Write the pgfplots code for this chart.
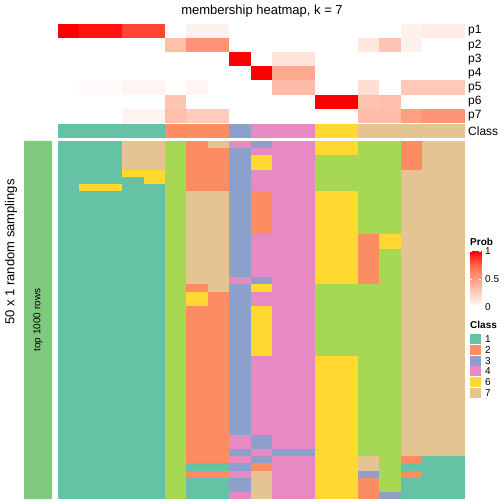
\documentclass[border=0pt]{standalone}
\usepackage{pgfplots}
\pgfplotsset{compat=1.18}
\usepackage{pgfplotstable}
\usepackage{fontspec}
\setmainfont{Liberation Sans}

\definecolor{annogreen}{RGB}{127,201,127}

\pgfplotsset{
  colormap={probmap}{rgb255=(255,255,255) rgb255=(255,207,191) rgb255=(255,158,129) rgb255=(255,103,70) rgb255=(255,0,0)},
  colormap={set2}{rgb255=(102,194,165) rgb255=(252,141,98) rgb255=(141,160,203) rgb255=(231,138,195) rgb255=(166,216,84) rgb255=(255,217,47) rgb255=(229,196,148)},
  hm/.style={scale only axis, anchor=south west, axis line style={draw=none}, xtick=\empty, ytick=\empty,
    major tick length=0pt, clip=false, /pgf/number format/assume math mode=true},
  cellplot/.style={scatter, only marks, scatter/use mapped color={draw=none, fill=mapped color}},
}

\pgfdeclareplotmark{cellP}{\pgfpathrectangle{\pgfpoint{-10.86pt}{-7.22pt}}{\pgfpoint{21.72pt}{14.44pt}}\pgfusepathqfill}
\pgfdeclareplotmark{cellK}{\pgfpathrectangle{\pgfpoint{-10.86pt}{-7.0pt}}{\pgfpoint{21.72pt}{14.0pt}}\pgfusepathqfill}
\pgfdeclareplotmark{cellB}{\pgfpathrectangle{\pgfpoint{-10.86pt}{-3.73pt}}{\pgfpoint{21.72pt}{7.46pt}}\pgfusepathqfill}
\pgfdeclareplotmark{cellL}{\pgfpathrectangle{\pgfpoint{-5.5pt}{-5.1pt}}{\pgfpoint{11pt}{10.2pt}}\pgfusepathqfill}

% membership probabilities: y=7 is p1, y=1 is p7
\pgfplotstableread{
y c1 c2 c3 c4 c5 c6 c7 c8 c9 c10 c11 c12 c13 c14 c15 c16 c17 c18 c19
7 1.00 0.95 0.95 0.83 0.83 0 0.07 0.07 0 0 0 0 0 0 0 0 0.07 0.10 0.10
6 0 0 0 0 0 0.33 0.55 0.55 0 0 0 0 0 0 0.12 0.30 0.07 0 0
5 0 0 0 0 0 0 0 0 1.00 0 0.14 0.14 0 0 0 0 0 0 0
4 0 0 0 0 0 0 0 0 0 1.00 0.45 0.45 0 0 0 0 0 0 0
3 0 0.02 0.02 0.05 0.05 0 0.05 0 0 0 0.35 0.35 0 0 0.17 0 0.28 0.28 0.28
2 0 0 0 0 0 0.30 0 0 0 0 0 0 1.00 1.00 0.30 0.33 0 0 0
1 0 0 0 0.06 0.06 0.33 0.27 0.27 0 0 0 0 0 0 0.34 0.34 0.50 0.55 0.55
}\probdata

\pgfplotstableread{
x c
1 1
2 1
3 1
4 1
5 1
6 2
7 2
8 2
9 3
10 4
11 4
12 4
13 6
14 6
15 7
16 7
17 7
18 7
19 7
}\classdata

% 50 random samplings: y=50 is the top row
\pgfplotstableread{
y c1 c2 c3 c4 c5 c6 c7 c8 c9 c10 c11 c12 c13 c14 c15 c16 c17 c18 c19
1  1 1 1 1 1 5 1 1 4 7 4 4 6 6 2 3 1 1 1
2  1 1 1 1 1 5 1 1 3 7 4 4 6 6 2 5 1 1 1
3  1 1 1 1 1 5 1 1 3 7 4 4 6 6 2 5 1 1 1
4  1 1 1 1 1 5 2 2 4 7 4 4 6 6 3 5 2 1 1
5  1 1 1 1 1 5 1 1 3 2 4 4 6 6 7 5 1 1 1
6  1 1 1 1 1 5 2 2 4 3 4 4 6 6 7 5 2 1 1
7  1 1 1 1 1 5 2 2 3 4 3 3 6 6 5 5 7 7 7
8  1 1 1 1 1 5 2 2 4 3 4 4 6 6 5 5 7 7 7
9  1 1 1 1 1 5 2 2 4 3 4 4 6 6 5 5 7 7 7
10 1 1 1 1 1 5 2 2 3 4 4 4 6 6 5 5 7 7 7
11 1 1 1 1 1 5 2 2 3 4 4 4 6 6 5 5 7 7 7
12 1 1 1 1 1 5 2 2 3 4 4 4 6 6 5 5 7 7 7
13 1 1 1 1 1 5 2 2 3 4 4 4 6 6 5 5 7 7 7
14 1 1 1 1 1 5 2 2 3 4 4 4 6 6 5 5 7 7 7
15 1 1 1 1 1 5 2 2 3 4 4 4 6 6 5 5 7 7 7
16 1 1 1 1 1 5 2 2 3 4 4 4 6 6 5 5 7 7 7
17 1 1 1 1 1 5 2 2 3 4 4 4 6 6 5 5 7 7 7
18 1 1 1 1 1 5 2 2 3 4 4 4 6 6 5 5 7 7 7
19 1 1 1 1 1 5 2 2 3 4 4 4 6 6 5 5 7 7 7
20 1 1 1 1 1 5 2 2 3 4 4 4 6 6 5 5 7 7 7
21 1 1 1 1 1 5 2 2 3 6 4 4 5 5 5 5 7 7 7
22 1 1 1 1 1 5 2 2 3 6 4 4 5 5 5 5 7 7 7
23 1 1 1 1 1 5 2 2 3 6 4 4 5 5 5 5 7 7 7
24 1 1 1 1 1 5 2 2 3 6 4 4 5 5 5 5 7 7 7
25 1 1 1 1 1 5 2 2 3 6 4 4 5 5 5 5 7 7 7
26 1 1 1 1 1 5 2 2 3 6 4 4 5 5 5 5 7 7 7
27 1 1 1 1 1 5 2 2 3 6 4 4 5 5 5 5 7 7 7
28 1 1 1 1 1 5 6 2 3 4 4 4 5 5 5 5 7 7 7
29 1 1 1 1 1 5 6 2 3 4 4 4 5 5 5 5 7 7 7
30 1 1 1 1 1 5 2 7 3 6 4 4 5 5 5 5 7 7 7
31 1 1 1 1 1 5 7 7 4 3 4 4 6 6 2 5 7 7 7
32 1 1 1 1 1 5 7 7 3 4 4 4 6 6 2 5 7 7 7
33 1 1 1 1 1 5 7 7 3 4 4 4 6 6 2 5 7 7 7
34 1 1 1 1 1 5 7 7 3 4 4 4 6 6 2 5 7 7 7
35 1 1 1 1 1 5 7 7 3 4 4 4 6 6 2 5 7 7 7
36 1 1 1 1 1 5 7 7 3 4 4 4 6 6 2 6 7 7 7
37 1 1 1 1 1 5 7 7 3 4 4 4 6 6 2 6 7 7 7
38 1 1 1 1 1 5 7 7 3 2 4 4 6 6 5 5 7 7 7
39 1 1 1 1 1 5 7 7 3 2 4 4 6 6 5 5 7 7 7
40 1 1 1 1 1 5 7 7 3 2 4 4 6 6 5 5 7 7 7
41 1 1 1 1 1 5 7 7 3 2 4 4 6 6 5 5 7 7 7
42 1 1 1 1 1 5 7 7 3 2 4 4 6 6 5 5 7 7 7
43 1 1 1 1 1 5 7 7 3 2 4 4 6 6 5 5 7 7 7
44 1 6 6 1 1 5 2 2 3 4 4 4 5 5 5 5 7 7 7
45 1 1 1 1 6 5 2 2 3 4 4 4 5 5 5 5 7 7 7
46 1 1 1 6 6 5 2 2 3 4 4 4 5 5 5 5 7 7 7
47 1 1 1 7 7 5 2 2 3 6 4 4 5 5 5 5 2 7 7
48 1 1 1 7 7 5 2 2 3 6 4 4 5 5 5 5 2 7 7
49 1 1 1 7 7 5 2 2 3 4 4 4 6 6 5 5 2 7 7
50 1 1 1 7 7 5 2 7 4 3 4 4 6 6 5 5 2 7 7
}\sampdata

\pgfplotstableread{
y c
6 1
5 2
4 3
3 4
2 6
1 7
}\legdata

\begin{document}
\begin{tikzpicture}[x=1pt,y=1pt]
\useasboundingbox (0,0) rectangle (504,504);

% title
\node[font=\fontsize{13}{15}\selectfont, anchor=base] at (262,489) {membership heatmap, k = 7};

% membership probability matrix
\begin{axis}[hm, at={(58pt,381pt)}, width=407pt, height=99pt,
  xmin=0.5, xmax=19.5, ymin=0.5, ymax=7.5,
  colormap name=probmap, point meta min=0, point meta max=1,
  ytick={1,...,7}, yticklabels={p7,p6,p5,p4,p3,p2,p1}, yticklabel pos=right,
  yticklabel style={anchor=west, inner sep=0pt, xshift=3pt, font=\fontsize{12}{14}\selectfont}]
\pgfplotsinvokeforeach{1,...,19}{
  \addplot[cellplot, mark=cellP, point meta=\thisrow{c#1}] table[x expr=#1, y=y] {\probdata};
}
\end{axis}

% class row
\begin{axis}[hm, at={(58pt,366pt)}, width=407pt, height=14pt,
  xmin=0.5, xmax=19.5, ymin=0.5, ymax=1.5,
  colormap name=set2, point meta min=1, point meta max=7,
  ytick={1}, yticklabels={Class}, yticklabel pos=right,
  yticklabel style={anchor=west, inner sep=0pt, xshift=3pt, font=\fontsize{12}{14}\selectfont}]
\addplot[cellplot, mark=cellK, point meta=\thisrow{c}] table[x=x, y expr=1] {\classdata};
\end{axis}

% 50 random samplings
\begin{axis}[hm, at={(58pt,5pt)}, width=407pt, height=358pt,
  xmin=0.5, xmax=19.5, ymin=0.5, ymax=50.5,
  colormap name=set2, point meta min=1, point meta max=7]
\pgfplotsinvokeforeach{1,...,19}{
  \addplot[cellplot, mark=cellB, point meta=\thisrow{c#1}] table[x expr=#1, y=y] {\sampdata};
}
\end{axis}

% left annotation bar
\begin{axis}[hm, at={(24pt,5pt)}, width=28pt, height=358pt,
  xmin=0, xmax=1, ymin=0, ymax=1]
\addplot[fill=annogreen, draw=none] coordinates {(0,0) (1,0) (1,1) (0,1) (0,0)};
\end{axis}
\node[rotate=90, font=\fontsize{10}{12}\selectfont] at (38,184) {top 1000 rows};
\node[rotate=90, font=\fontsize{13}{15}\selectfont] at (11,252) {50 x 1 random samplings};

% Prob legend
\node[anchor=base west, inner sep=0pt, font=\bfseries\fontsize{10}{12}\selectfont] at (470,258.5) {Prob};
\begin{axis}[hm, at={(470pt,197pt)}, width=11pt, height=56pt,
  xmin=0, xmax=1, ymin=0, ymax=1, axis on top,
  colormap name=probmap, point meta min=0, point meta max=1,
  ytick={0,0.5,1}, yticklabels={0,0.5,1}, yticklabel pos=right, ytick pos=both,
  tick align=inside, major tick length=2pt, tick style={draw=white, line width=0.8pt},
  yticklabel style={anchor=west, inner sep=0pt, xshift=4pt, font=\fontsize{10}{12}\selectfont}]
\addplot[patch, shader=interp, point meta=explicit] coordinates {
  (0,0) [0] (1,0) [0] (1,1) [1]
  (0,0) [0] (1,1) [1] (0,1) [1]};
\end{axis}

% Class legend
\node[anchor=base west, inner sep=0pt, font=\bfseries\fontsize{10}{12}\selectfont] at (470,175) {Class};
\begin{axis}[hm, at={(470pt,106pt)}, width=11pt, height=64pt,
  xmin=0, xmax=1, ymin=0.5, ymax=6.5,
  colormap name=set2, point meta min=1, point meta max=7,
  ytick={1,...,6}, yticklabels={7,6,4,3,2,1}, yticklabel pos=right,
  yticklabel style={anchor=west, inner sep=0pt, xshift=4pt, font=\fontsize{10}{12}\selectfont}]
\addplot[cellplot, mark=cellL, point meta=\thisrow{c}] table[x expr=0.5, y=y] {\legdata};
\end{axis}
\end{tikzpicture}
\end{document}
